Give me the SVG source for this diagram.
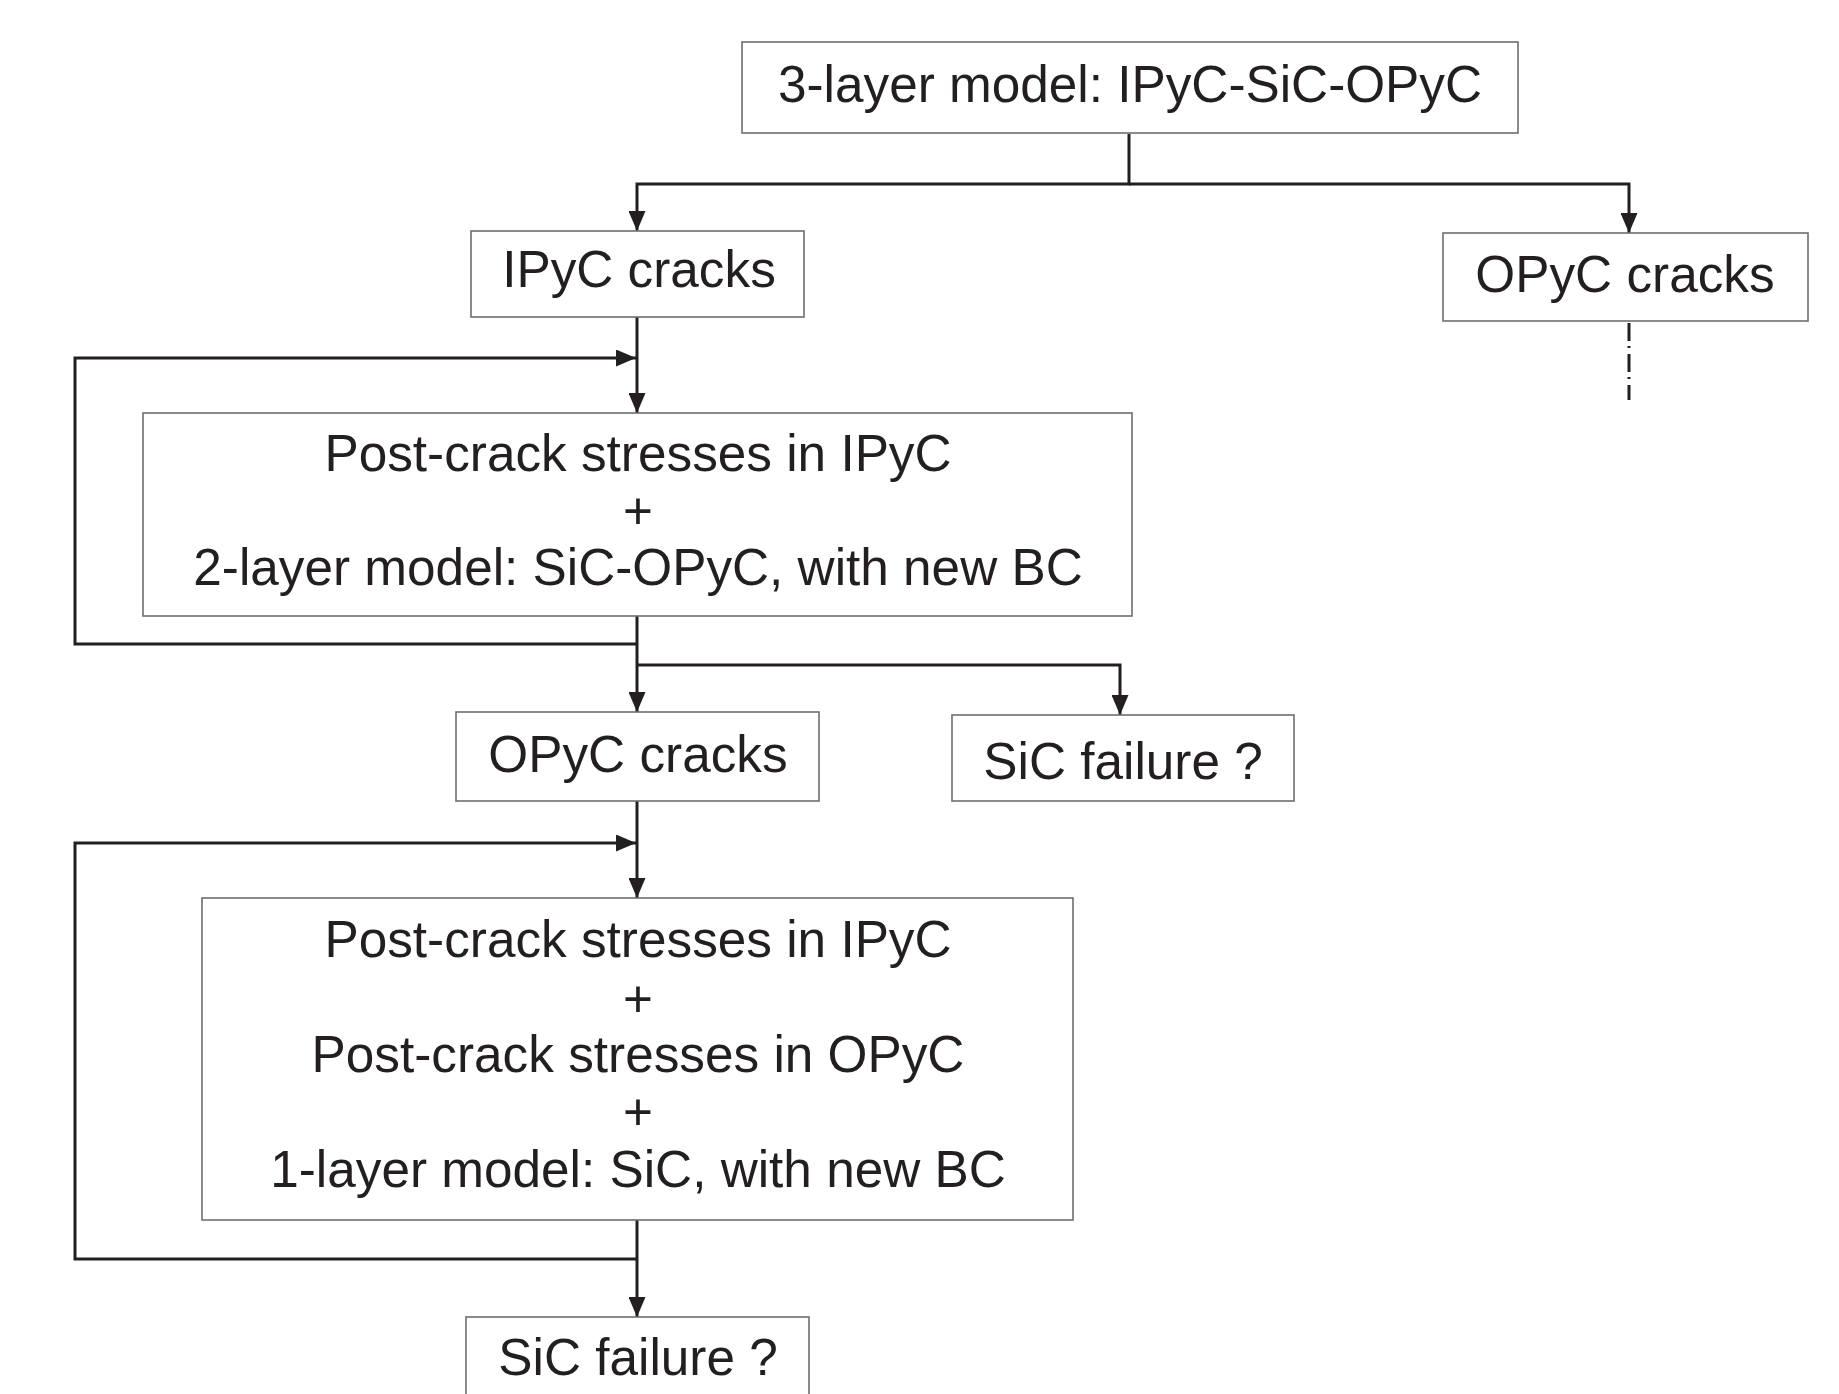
<svg xmlns="http://www.w3.org/2000/svg" width="1839" height="1394" viewBox="0 0 1839 1394">
  <style>
    .box { fill: #ffffff; stroke: #6d6e71; stroke-width: 1.6; }
    .lbl { font-family: "Liberation Sans", Arial, Helvetica, sans-serif; font-size: 51.3px; fill: #231f20; text-anchor: middle; }
    .wire { fill: none; stroke: #231f20; stroke-width: 3; }
    .arrow { marker-end: url(#head); }
    .dashdot { fill: none; stroke: #231f20; stroke-width: 3; stroke-dasharray: 18 5 2 6; }
  </style>
  <defs>
    <marker id="head" markerUnits="userSpaceOnUse" markerWidth="20" markerHeight="17" refX="20" refY="8.5" orient="auto">
      <path d="M0,0 L20,8.5 L0,17 Z" fill="#231f20"/>
    </marker>
  </defs>
  <rect width="1839" height="1394" fill="#ffffff"/>

  <!-- connectors -->
  <g id="connectors">
    <path class="wire arrow" d="M1129,134 V184 H637 V231"/>
    <path class="wire arrow" d="M1129,184 H1629 V233"/>
    <path class="dashdot" d="M1629,323 V400"/>
    <path class="wire arrow" d="M637,317 V413"/>
    <path class="wire arrow" d="M637,644 H75 V358 H636"/>
    <path class="wire arrow" d="M637,616 V712"/>
    <path class="wire arrow" d="M637,665 H1120 V715"/>
    <path class="wire arrow" d="M637,801 V898"/>
    <path class="wire arrow" d="M637,1259 H75 V843 H636"/>
    <path class="wire arrow" d="M637,1220 V1317"/>
  </g>

  <!-- nodes -->
  <g id="three-layer">
    <rect class="box" x="742" y="42" width="776" height="91"/>
    <text class="lbl" x="1130" y="102">3-layer model: IPyC-SiC-OPyC</text>
  </g>
  <g id="ipyc-cracks">
    <rect class="box" x="471" y="231" width="333" height="86"/>
    <text class="lbl" x="639" y="287">IPyC cracks</text>
  </g>
  <g id="opyc-cracks-right">
    <rect class="box" x="1443" y="233" width="365" height="88"/>
    <text class="lbl" x="1625" y="292">OPyC cracks</text>
  </g>
  <g id="two-layer">
    <rect class="box" x="143" y="413" width="989" height="203"/>
    <text class="lbl" x="638" y="471">Post-crack stresses in IPyC</text>
    <text class="lbl" x="638" y="529">+</text>
    <text class="lbl" x="638" y="585">2-layer model: SiC-OPyC, with new BC</text>
  </g>
  <g id="opyc-cracks">
    <rect class="box" x="456" y="712" width="363" height="89"/>
    <text class="lbl" x="638" y="772">OPyC cracks</text>
  </g>
  <g id="sic-failure-1">
    <rect class="box" x="952" y="715" width="342" height="86"/>
    <text class="lbl" x="1123" y="779">SiC failure ?</text>
  </g>
  <g id="one-layer">
    <rect class="box" x="202" y="898" width="871" height="322"/>
    <text class="lbl" x="638" y="957">Post-crack stresses in IPyC</text>
    <text class="lbl" x="638" y="1017">+</text>
    <text class="lbl" x="638" y="1072">Post-crack stresses in OPyC</text>
    <text class="lbl" x="638" y="1130">+</text>
    <text class="lbl" x="638" y="1187">1-layer model: SiC, with new BC</text>
  </g>
  <g id="sic-failure-2">
    <rect class="box" x="466" y="1317" width="343" height="100"/>
    <text class="lbl" x="638" y="1375">SiC failure ?</text>
  </g>
</svg>
